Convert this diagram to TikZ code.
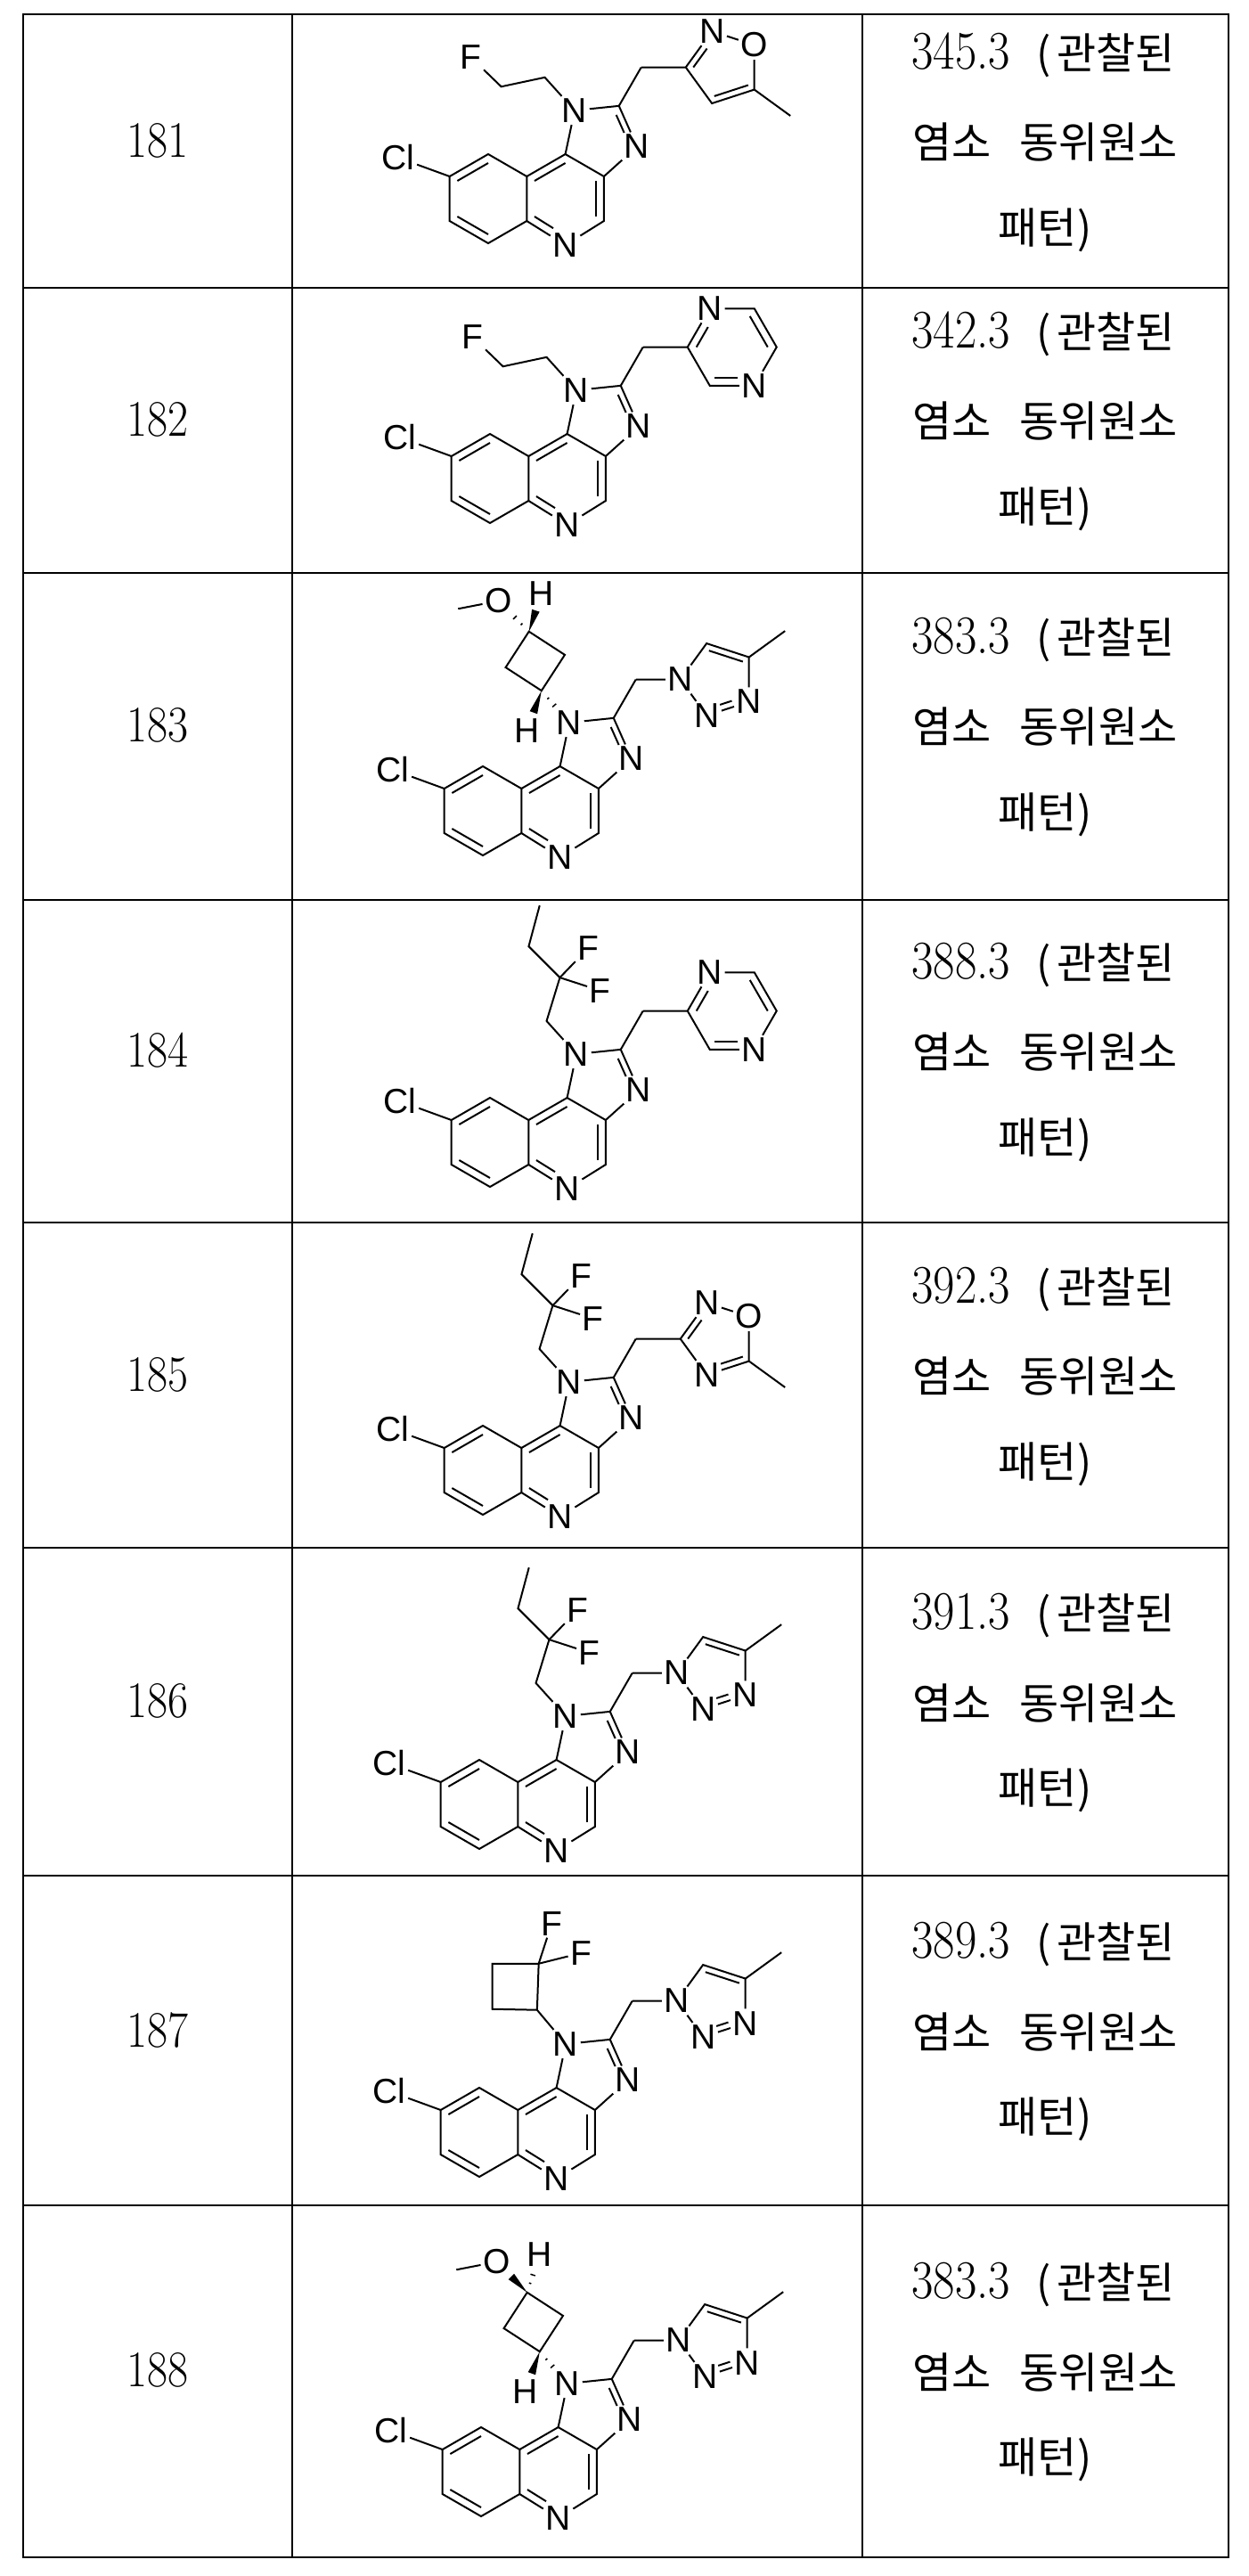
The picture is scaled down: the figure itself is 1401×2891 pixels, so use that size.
\documentclass[tikz,border=0pt]{standalone}
\usepackage{fontspec}
\usepackage{graphicx}
\usetikzlibrary{calc}
\newfontfamily\atomfont{Liberation Sans}
\newfontfamily\krfont{Noto Sans CJK KR}
\tikzset{
  bond/.style={line width=2pt},
  atom/.style={font=\atomfont\fontsize{39}{39}\selectfont, inner sep=2.5pt},
  outerline/.style={line width=2.5pt},
  innerline/.style={line width=1.5pt},
  txt/.style={inner sep=0pt}
}
\newcommand{\dnum}[2]{\scalebox{1}[1.15]{\fontsize{#1}{#1}\selectfont #2}}
\newcommand{\krs}{\krfont\fontsize{48}{48}\selectfont}
\newcommand{\dbbond}[4][]{\draw[bond,#1] ($(#2)!0.2!(#4)$) -- ($(#3)!0.2!(#4)$);}
\newcommand{\wdg}[3]{\fill (#1) -- ($(#1)!#3!(#2)!4.5pt!90:(#2)$) -- ($(#1)!#3!(#2)!4.5pt!-90:(#2)$) -- cycle;}
\newcommand{\hsh}[2]{\foreach \tt/\ww in {0.24/1.3pt,0.46/2.8pt}{\draw[line width=1.5pt] ($(#1)!\tt!(#2)!\ww!90:(#2)$) -- ($(#1)!\tt!(#2)!\ww!-90:(#2)$);}}
\newcommand{\imqcore}{%
  \coordinate (cA) at (0,0); \coordinate (cB) at (1.732,0); \coordinate (cI) at (2.509,1.346);
  \coordinate (a1) at (0,1); \coordinate (a2) at (0.866,0.5); \coordinate (a3) at (0.866,-0.5);
  \coordinate (a4) at (0,-1); \coordinate (a5) at (-0.866,-0.5); \coordinate (a6) at (-0.866,0.5);
  \coordinate (b1) at (1.732,1); \coordinate (b2) at (2.598,0.5); \coordinate (b3) at (2.598,-0.5);
  \node[atom] (N5) at (1.732,-1.04) {N};
  \node[atom] (N1) at (1.94,1.98) {N};
  \coordinate (C2) at (2.935,2.083);
  \node[atom] (N3) at (3.341,1.17) {N};
  \node[atom] (Cl) at (-2.02,0.92) {Cl};
  \draw[bond] (a1)--(a2)--(a3)--(a4)--(a5)--(a6)--cycle;
  \draw[bond] (a6)--(Cl);
  \draw[bond] (a2)--(b1)--(b2)--(b3)--(N5)--(a3);
  \draw[bond] (b1)--(N1)--(C2)--(N3)--(b2);
  \dbbond{a6}{a1}{cA}\dbbond{a5}{a4}{cA}\dbbond{a2}{b1}{cB}\dbbond{b2}{b3}{cB}
  \dbbond[shorten >=16pt]{a3}{N5}{cB}\dbbond[shorten >=15pt,shorten <=3pt]{C2}{N3}{cI}
  \coordinate (M) at ($(C2)+(60:1)$); \coordinate (Ar) at ($(M)+(1,0)$);
  \draw[bond] (C2)--(M);
}
\newcommand{\fluoroethyl}{%
  \coordinate (Ca) at ($(N1)+(132:1)$); \coordinate (Cb) at ($(Ca)+(192:1)$);
  \node[atom] (F) at ($(Cb)+(136:0.95)$) {F};
  \draw[bond] (N1)--(Ca)--(Cb)--(F);
}
\newcommand{\dfb}{%
  \coordinate (Ca) at ($(N1)+(132:1)$); \coordinate (Cf) at ($(Ca)+(73:1.02)$);
  \coordinate (Cc) at ($(Cf)+(135:0.99)$); \coordinate (Ce) at ($(Cc)+(75:0.95)$);
  \node[atom] (F1) at ($(Cf)+(46:0.92)$) {F}; \node[atom] (F2) at ($(Cf)+(-18:0.95)$) {F};
  \draw[bond] (N1)--(Ca)--(Cf)--(Cc)--(Ce); \draw[bond] (Cf)--(F1); \draw[bond] (Cf)--(F2);
}
\newcommand{\dfcb}{%
  \coordinate (Ca) at ($(N1)+(130:1)$); \coordinate (Cf) at ($(Ca)+(88:1.04)$);
  \coordinate (Cc) at ($(Cf)+(180:1.04)$); \coordinate (Cd) at ($(Cc)+(-90:1.02)$);
  \node[atom] (F1) at ($(Cf)+(72:0.95)$) {F}; \node[atom] (F2) at ($(Cf)+(14:0.98)$) {F};
  \draw[bond] (N1)--(Ca)--(Cf)--(Cc)--(Cd)--(Ca); \draw[bond] (Cf)--(F1); \draw[bond] (Cf)--(F2);
}
\newcommand{\mcb}[1]{%
  \coordinate (Ca) at ($(N1)+(131:0.95)$); \coordinate (Cb) at ($(Ca)+(57:0.96)$);
  \coordinate (Cc) at ($(Cb)+(147:0.96)$); \coordinate (Cd) at ($(Cc)+(237:0.96)$);
  \node[atom] (Hb) at ($(Ca)+(-110:0.95)$) {H}; \node[atom] (Ht) at ($(Cc)+(72:0.9)$) {H};
  \node[atom] (O) at ($(Cc)+(135:0.97)$) {O}; \coordinate (OMe) at ($(O)+(191:0.92)$);
  \draw[bond] (Ca)--(Cb)--(Cc)--(Cd)--cycle; \draw[bond] (O)--(OMe);
  \wdg{Ca}{Hb}{0.55}\hsh{Ca}{N1}
  \ifnum#1=1 \wdg{Cc}{Ht}{0.55}\hsh{Cc}{O}\else \wdg{Cc}{O}{0.52}\hsh{Cc}{Ht}\fi
}
\newcommand{\isox}{%
  \coordinate (P) at ($(Ar)+(0.851,0)$);
  \node[atom] (V2) at ($(P)+(108:0.851)$) {N}; \node[atom] (V3) at ($(P)+(36:0.851)$) {O};
  \coordinate (V4) at ($(P)+(-36:0.851)$); \coordinate (V5) at ($(P)+(-108:0.851)$);
  \coordinate (Me) at ($(V4)+(-36:1)$);
  \draw[bond] (M)--(Ar)--(V2)--(V3)--(V4)--(V5)--(Ar); \draw[bond] (V4)--(Me);
  \dbbond[shorten >=14pt]{Ar}{V2}{P}\dbbond{V4}{V5}{P}
}
\newcommand{\oxad}{%
  \coordinate (P) at ($(Ar)+(0.851,0)$);
  \node[atom] (V2) at ($(P)+(108:0.851)$) {N}; \node[atom] (V3) at ($(P)+(36:0.851)$) {O};
  \coordinate (V4) at ($(P)+(-36:0.851)$); \node[atom] (V5) at ($(P)+(-108:0.851)$) {N};
  \coordinate (Me) at ($(V4)+(-36:1)$);
  \draw[bond] (M)--(Ar)--(V2)--(V3)--(V4)--(V5)--(Ar); \draw[bond] (V4)--(Me);
  \dbbond[shorten >=14pt]{Ar}{V2}{P}\dbbond[shorten >=14pt]{V4}{V5}{P}
}
\newcommand{\triaz}{%
  \coordinate (P) at ($(Ar)+(0.851,0)$);
  \node[atom] (T1) at (Ar) {N};
  \coordinate (V2) at ($(P)+(108:0.851)$); \coordinate (V3) at ($(P)+(36:0.851)$);
  \node[atom] (V4) at ($(P)+(-36:0.851)$) {N}; \node[atom] (V5) at ($(P)+(-108:0.851)$) {N};
  \coordinate (Me) at ($(V3)+(36:1)$);
  \draw[bond] (M)--(T1)--(V2)--(V3)--(V4)--(V5)--(T1); \draw[bond] (V3)--(Me);
  \dbbond{V2}{V3}{P}\dbbond[shorten <=13pt,shorten >=13pt]{V5}{V4}{P}
}
\newcommand{\pyraz}{%
  \coordinate (Q) at ($(Ar)+(1,0)$);
  \node[atom] (W2) at ($(Q)+(120:1)$) {N}; \coordinate (W3) at ($(Q)+(60:1)$);
  \coordinate (W4) at ($(Q)+(0:1)$); \node[atom] (W5) at ($(Q)+(-60:1)$) {N};
  \coordinate (W6) at ($(Q)+(-120:1)$);
  \draw[bond] (M)--(Ar)--(W2)--(W3)--(W4)--(W5)--(W6)--(Ar);
  \dbbond[shorten >=14pt]{Ar}{W2}{Q}\dbbond{W3}{W4}{Q}\dbbond[shorten <=14pt]{W5}{W6}{Q}
}
\newcommand{\rowtext}[3]{%
  \node[txt] (id#1) at (177,{#2-12}) {\dnum{50}{#1}};
  \node[txt] (ma#1) at (1171,{#2-108}) {\dnum{53}{#3}\hspace{30pt}{\krs(\hspace{6pt}관찰된}};
  \node[txt] (mb#1) at (1173,{#2-10}) {\krs 염소\hspace{32pt}동위원소};
  \node[txt] (mc#1) at (1173,{#2+88}) {\krs 패턴)};
}
\begin{document}
\begin{tikzpicture}[x=1pt,y=-1pt]
\useasboundingbox (0,0) rectangle (1401,2891);
\fill[white] (0,0) rectangle (1401,2891);
% table
\foreach \yy in {323,643,1010,1372,1737,2105,2475}{\draw[innerline] (26,\yy) -- (1379,\yy);}
\draw[innerline] (328,16) -- (328,2870);
\draw[innerline] (968,16) -- (968,2870);
\draw[outerline] (26,16) rectangle (1379,2870);
% texts
\rowtext{181}{170}{345.3}
\rowtext{182}{483}{342.3}
\rowtext{183}{826}{383.3}
\rowtext{184}{1191}{388.3}
\rowtext{185}{1555}{392.3}
\rowtext{186}{1921}{391.3}
\rowtext{187}{2290}{389.3}
\rowtext{188}{2672}{383.3}
% molecules
\begin{scope}[shift={(548,223)},x=50pt,y=50pt] \imqcore\fluoroethyl\isox \end{scope}
\begin{scope}[shift={(550,537)},x=50pt,y=50pt] \imqcore\fluoroethyl\pyraz \end{scope}
\begin{scope}[shift={(542,910)},x=50pt,y=50pt] \imqcore\mcb{1}\triaz \end{scope}
\begin{scope}[shift={(550,1282)},x=50pt,y=50pt] \imqcore\dfb\pyraz \end{scope}
\begin{scope}[shift={(542,1650)},x=50pt,y=50pt] \imqcore\dfb\oxad \end{scope}
\begin{scope}[shift={(538,2025)},x=50pt,y=50pt] \imqcore\dfb\triaz \end{scope}
\begin{scope}[shift={(538,2393)},x=50pt,y=50pt] \imqcore\dfcb\triaz \end{scope}
\begin{scope}[shift={(540,2774)},x=50pt,y=50pt] \imqcore\mcb{2}\triaz \end{scope}
\end{tikzpicture}
\end{document}
